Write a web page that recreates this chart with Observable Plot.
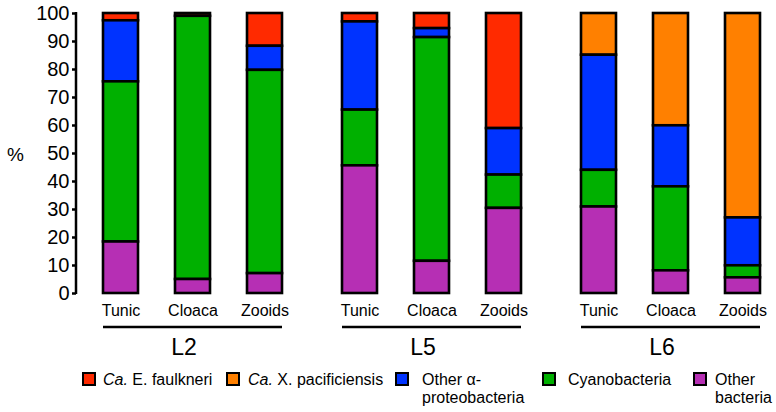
<!DOCTYPE html>
<html><head><meta charset="utf-8">
<script src="https://cdn.jsdelivr.net/npm/d3@7"></script>
<script src="https://cdn.jsdelivr.net/npm/@observablehq/plot@0.6"></script>
<style>
body{margin:0;background:#fff;font-family:"Liberation Sans",Arial,Helvetica,sans-serif;color:#000;}
#wrap{position:relative;width:776px;height:412px;overflow:hidden;}
#wrap svg{position:absolute;left:0;top:0;}
.pct{position:absolute;left:7px;top:145px;font-size:19px;line-height:20px;}
.leg{position:absolute;top:371px;font-size:16px;line-height:18px;white-space:nowrap;}
.sw{position:absolute;top:1px;width:10px;height:10px;border:2px solid #000;}
.lt{position:absolute;top:0;}
</style>
</head><body>
<div id="wrap"><div class="pct">%</div></div>
<script>
const sites = ["L2", "L5", "L6"];
const samples = ["Tunic", "Cloaca", "Zooids"];
const taxa = ["Ca. E. faulkneri", "Ca. X. pacificiensis", "Other α-proteobacteria", "Cyanobacteria", "Other bacteria"];
const colors = ["#ff2a00", "#ff8000", "#0033ff", "#00b000", "#b62fb4"];
const stackOrder = ["Other bacteria", "Cyanobacteria", "Other α-proteobacteria", "Ca. X. pacificiensis", "Ca. E. faulkneri"];
// values per sample: L2 Tunic, L2 Cloaca, L2 Zooids, L5 Tunic, L5 Cloaca, L5 Zooids, L6 Tunic, L6 Cloaca, L6 Zooids
const faulkneri     = [2.6, 1.0, 11.7, 3.0, 5.4, 41.1, 0, 0, 0];
const pacificiensis = [0, 0, 0, 0, 0, 0, 14.9, 40.1, 73.0];
const otherAlpha    = [21.8, 0, 8.6, 31.5, 3.2, 16.6, 41.1, 21.8, 17.1];
const cyano         = [57.2, 94.0, 72.6, 19.9, 79.9, 11.9, 13.1, 30.0, 4.3];
const otherBact     = [18.4, 5.0, 7.1, 45.6, 11.5, 30.4, 30.9, 8.1, 5.6];
const yTicks = [0, 10, 20, 30, 40, 50, 60, 70, 80, 90, 100];

const series = [faulkneri, pacificiensis, otherAlpha, cyano, otherBact];
const rows = [];
sites.forEach((site, si) => samples.forEach((sample, sj) => {
  const k = si * samples.length + sj;
  taxa.forEach((taxon, t) => {
    const v = series[t][k];
    if (v > 0) rows.push({site, sample, taxon, value: v});
  });
}));

const font = '"Liberation Sans", Arial, Helvetica, sans-serif';
const chart = Plot.plot({
  width: 776, height: 362,
  marginLeft: 75, marginRight: 6, marginTop: 13, marginBottom: 69,
  style: {fontFamily: font, fontSize: "16px", color: "#000", background: "transparent", overflow: "visible"},
  fx: {domain: sites, paddingInner: 0.099, paddingOuter: 0, label: null},
  x: {domain: samples, paddingInner: 0.517, paddingOuter: 0.248, align: 0.74, label: null},
  y: {domain: [0, 100], label: null},
  color: {domain: taxa, range: colors},
  facet: {data: rows, x: "site", label: null},
  marks: [
    Plot.barY(rows, {x: "sample", y: "value", fill: "taxon", stroke: "#000", strokeWidth: 2.6, order: stackOrder}),
    Plot.axisY({ticks: yTicks, tickSize: 4, tickPadding: 3, fontSize: 20, strokeWidth: 2.5, label: null}),
    Plot.axisX({anchor: "bottom", tickSize: 0, tickPadding: 11, fontSize: 16, label: null}),
    Plot.axisFx({anchor: "bottom", tickSize: 0, tickPadding: 45, fontSize: 23, label: null})
  ]
});
document.getElementById("wrap").appendChild(chart);

// axis line and group underlines, positioned through Plot's scales
const fx = chart.scale("fx"), x = chart.scale("x"), y = chart.scale("y");
const x0 = Math.min(...x.range);
const svg = d3.select(chart);
svg.append("line")
  .attr("x1", fx.apply(sites[0])).attr("x2", fx.apply(sites[0]))
  .attr("y1", y.apply(0) + 1).attr("y2", y.apply(100) - 1)
  .attr("stroke", "#000").attr("stroke-width", 2.5);
sites.forEach(site => {
  const base = fx.apply(site) - x0;
  svg.append("line")
    .attr("x1", base + x.apply(samples[0]))
    .attr("x2", base + x.apply(samples[samples.length - 1]) + x.bandwidth)
    .attr("y1", y.apply(0) + 34).attr("y2", y.apply(0) + 34)
    .attr("stroke", "#000").attr("stroke-width", 2.7);
});

// legend
const legLeft = [82, 226, 395, 542, 693];
const legText = [
  '<i>Ca.</i> E. faulkneri',
  '<i>Ca.</i> X. pacificiensis',
  'Other α-<br>proteobacteria',
  'Cyanobacteria',
  'Other<br>bacteria'
];
const legGap = [21, 22, 27, 26, 22];
const wrap = document.getElementById("wrap");
taxa.forEach((t, i) => {
  const d = document.createElement("div");
  d.className = "leg";
  d.style.left = legLeft[i] + "px";
  d.innerHTML = `<span class="sw" style="left:0;background:${colors[i]}"></span><span class="lt" style="left:${legGap[i]}px">${legText[i]}</span>`;
  wrap.appendChild(d);
});
</script>
</body></html>
